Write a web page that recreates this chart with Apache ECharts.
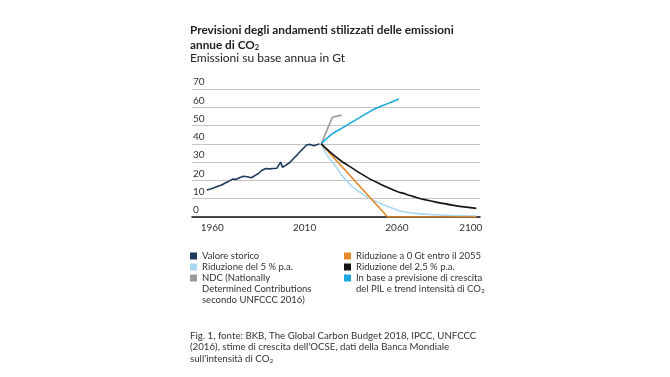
<!DOCTYPE html>
<html>
<head>
<meta charset="utf-8">
<script src="https://cdn.jsdelivr.net/npm/echarts@6/dist/echarts.min.js"></script>
<style>
  html, body { margin: 0; padding: 0; background: #fff; }
  #main { width: 670px; height: 377px; }
</style>
</head>
<body>
<div id="main"></div>
<script>
// dati (Gt CO2)
var histYears = [1957, 1959, 1961, 1963, 1965, 1967, 1969, 1971, 1972, 1973, 1974, 1975, 1977, 1979, 1980, 1981, 1982, 1983, 1985, 1987, 1989, 1991, 1992, 1993, 1995, 1996, 1997, 1998, 1999, 2000, 2002, 2004, 2006, 2008, 2009, 2010, 2011, 2012, 2013, 2014, 2015, 2016, 2017, 2018];
var histValues = [14.8, 15.3, 16.0, 16.8, 17.5, 18.6, 19.6, 20.7, 21.2, 20.6, 20.9, 21.6, 22.3, 22.0, 21.4, 21.5, 22.0, 22.6, 23.8, 25.6, 26.5, 26.3, 26.4, 26.5, 26.7, 27.4, 30.0, 27.2, 27.8, 28.4, 29.8, 32.0, 34.0, 36.2, 36.5, 38.3, 39.4, 39.6, 39.7, 39.8, 39.0, 38.9, 39.6, 40.0];

var ndcYears = [2019, 2025, 2030];
var ndcValues = [40, 54.5, 55.7];

var gdpYears = [2019, 2022, 2025, 2030, 2035, 2040, 2045, 2050, 2055, 2061];
var gdpValues = [40, 43, 45.5, 48.5, 51.5, 54.5, 57.5, 60, 62, 64.5];

var cut25Years = [2019, 2025, 2030, 2036, 2040, 2045, 2050, 2054, 2060, 2065, 2072, 2080, 2090, 2103];
var cut25Values = [40, 34.5, 30.5, 26.6, 24, 21, 18.5, 16.6, 14, 12.5, 10.2, 8.4, 6.5, 4.7];

var cut5Years = [2019, 2022, 2027, 2030, 2035, 2040, 2045, 2050, 2055, 2063, 2070, 2080, 2090, 2103];
var cut5Values = [40, 34, 27.5, 23, 17.5, 13.5, 10.2, 8, 5.8, 3.0, 2.0, 1.2, 0.8, 0.5];

var zeroYears = [2019, 2055, 2103];
var zeroValues = [40, 0, 0];

var xTicks = [1960, 2010, 2060, 2100];

function pairs(xs, ys) {
  return xs.map(function (x, i) { return [x, ys[i]]; });
}

var FONT = 'Lato';
var names = {
  hist: 'Valore storico',
  cut5: 'Riduzione del 5 % p.a.',
  ndc: 'NDC (Nationally Determined Contributions secondo UNFCCC 2016)',
  zero: 'Riduzione a 0 Gt entro il 2055',
  cut25: 'Riduzione del 2,5 % p.a.',
  gdp: 'In base a previsione di crescita del PIL e trend intensità di CO2'
};
var labels = {};
labels[names.hist] = '{t|Valore storico}';
labels[names.cut5] = '{t|Riduzione del 5 % p.a.}';
labels[names.ndc] = '{t|NDC (Nationally}\n{t|Determined Contributions}\n{t|secondo UNFCCC 2016)}';
labels[names.zero] = '{t|Riduzione a 0 Gt entro il 2055}';
labels[names.cut25] = '{t|Riduzione del 2,5 % p.a.}';
labels[names.gdp] = '{t|In base a previsione di crescita}\n{t|del PIL e trend intensità di CO}{s|2}';

var richLegend = {
  t: { fontFamily: FONT, fontSize: 9.5, lineHeight: 11, color: '#333' },
  s: { fontFamily: FONT, fontSize: 6.5, lineHeight: 11, color: '#333', padding: [4, 0, 0, 0] }
};

// le voci su più righe: icona allineata alla prima riga
function legendBox(left, top, item, lines) {
  return {
    left: left,
    top: top,
    orient: 'vertical',
    padding: 0,
    itemGap: 4,
    itemWidth: 7,
    itemHeight: 7,
    icon: 'rect',
    selectedMode: false,
    data: [item],
    formatter: function (n) { return labels[n]; },
    textStyle: {
      fontFamily: FONT,
      fontSize: 9.5,
      color: '#333',
      padding: [(lines - 1) * 11, 0, 0, 0],
      rich: richLegend
    }
  };
}

var chart = echarts.init(document.getElementById('main'));

function line(name, color, data, z, smooth) {
  return {
    name: name,
    type: 'line',
    data: data,
    showSymbol: false,
    symbol: 'none',
    smooth: smooth,
    z: z,
    lineStyle: { color: color, width: 1.6 },
    itemStyle: { color: color }
  };
}

chart.setOption({
  animation: false,
  backgroundColor: '#fff',
  title: [
    {
      left: 190,
      top: 23,
      padding: 0,
      text: '{b|Previsioni degli andamenti stilizzati delle emissioni}\n{b|annue di CO}{s|2}',
      textStyle: {
        rich: {
          b: { fontFamily: FONT, fontSize: 11.8, fontWeight: 'bold', lineHeight: 14.5, color: '#222' },
          s: { fontFamily: FONT, fontSize: 7.5, fontWeight: 'bold', lineHeight: 14.5, color: '#222', padding: [5, 0, 0, 0] }
        }
      }
    },
    {
      left: 190,
      top: 52,
      padding: 0,
      text: 'Emissioni su base annua in Gt',
      textStyle: { fontFamily: FONT, fontSize: 12, fontWeight: 'normal', color: '#222' }
    },
    {
      left: 190,
      top: 330,
      padding: 0,
      text: '{t|Fig. 1, fonte: BKB, The Global Carbon Budget 2018, IPCC, UNFCCC}\n{t|(2016), stime di crescita dell\'OCSE, dati della Banca Mondiale}\n{t|sull\'intensità di CO}{s|2}',
      textStyle: {
        fontWeight: 'normal',
        rich: {
          t: { fontFamily: FONT, fontSize: 9.7, fontWeight: 'normal', lineHeight: 11.5, color: '#333' },
          s: { fontFamily: FONT, fontSize: 6.5, fontWeight: 'normal', lineHeight: 11.5, color: '#333', padding: [4, 0, 0, 0] }
        }
      }
    }
  ],
  legend: [
    legendBox(190, 251, names.hist, 1),
    legendBox(190, 262, names.cut5, 1),
    legendBox(190, 273, names.ndc, 3),
    legendBox(344, 251, names.zero, 1),
    legendBox(344, 262, names.cut25, 1),
    legendBox(344, 273, names.gdp, 2)
  ],
  grid: { left: 192, right: 190, top: 89, bottom: 160, containLabel: false },
  xAxis: {
    type: 'value',
    min: 1949,
    max: 2105,
    splitLine: { show: false },
    axisTick: { show: false },
    axisLine: { show: true, lineStyle: { color: '#111', width: 1.5 } },
    axisLabel: {
      customValues: xTicks,
      fontFamily: FONT,
      fontSize: 10,
      color: '#333',
      margin: 6,
      formatter: function (v) { return String(v); }
    }
  },
  yAxis: {
    type: 'value',
    min: 0,
    max: 70,
    interval: 10,
    axisLine: { show: false },
    axisTick: { show: false },
    splitLine: { lineStyle: { color: '#c4c4c4', width: 1.2 } },
    axisLabel: {
      inside: true,
      margin: 1,
      verticalAlign: 'bottom',
      padding: [0, 0, 2, 0],
      fontFamily: FONT,
      fontSize: 10,
      color: '#333'
    }
  },
  series: [
    line(names.hist, '#1e3a5c', pairs(histYears, histValues), 5, false),
    line(names.cut5, '#a9d9f0', pairs(cut5Years, cut5Values), 3, 0.3),
    line(names.ndc, '#9a9a9a', pairs(ndcYears, ndcValues), 2, false),
    line(names.zero, '#e38a2c', pairs(zeroYears, zeroValues), 4, false),
    line(names.cut25, '#151515', pairs(cut25Years, cut25Values), 4, 0.3),
    line(names.gdp, '#1ba8dc', pairs(gdpYears, gdpValues), 3, 0.3)
  ]
});
</script>
</body>
</html>
